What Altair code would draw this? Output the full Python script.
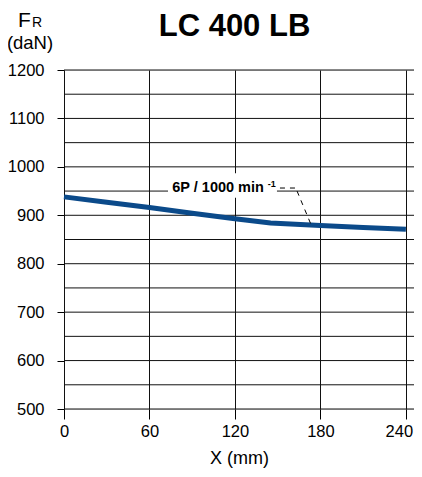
import altair as alt
import pandas as pd

# ---- data ----
x_mm = [0, 30, 60, 90, 120, 145, 180, 210, 240]
fr_dan = [938, 927, 916, 904, 893, 884, 879, 875, 871]
x_ticks = [0, 60, 120, 180, 240]
y_ticks = [500, 600, 700, 800, 900, 1000, 1100, 1200]
y_grid = [500, 550, 600, 650, 700, 750, 800, 850, 900, 950, 1000, 1050, 1100, 1150, 1200]
chart_title = "LC 400 LB"
series_label = "6P / 1000 min"
series_label_sup = "-1"

W, H = 350, 339
FONT = "Liberation Sans"
LINE_COLOR = "#0b4a8a"
GRID_COLOR = "#111111"

xs = alt.Scale(domain=[0, 245.7], nice=False, zero=False)
ys = alt.Scale(domain=[500, 1200], nice=False, zero=False)

x_axis = alt.Axis(values=x_ticks, grid=True, gridColor=GRID_COLOR, gridOpacity=1, gridWidth=1,
                  tickSize=10, tickColor="black", tickWidth=1, domain=False, format="d",
                  labelFontSize=16.5, labelFont=FONT, labelColor="black", labelPadding=4,
                  labelFlush=False,
                  labelOffset=alt.expr("datum.value == 240 ? -7 : 0"),
                  title="X (mm)", titleFont=FONT, titleFontSize=18, titleFontWeight="normal",
                  titleColor="black", titlePadding=10)
y_axis = alt.Axis(values=y_ticks, grid=False, tickSize=7, tickColor="black", tickWidth=1,
                  domain=False, format="d", labelFontSize=16.5, labelFont=FONT,
                  labelColor="black", labelPadding=13, title=None)

grid_df = pd.DataFrame({"y": y_grid})
hgrid = alt.Chart(grid_df).mark_rule(color=GRID_COLOR, strokeWidth=1).encode(
    y=alt.Y("y:Q", scale=ys, axis=y_axis),
    x=alt.value(0), x2=alt.value(W),
)

line_df = pd.DataFrame({"x": x_mm, "fr": fr_dan})
line = alt.Chart(line_df).mark_line(color=LINE_COLOR, strokeWidth=5, strokeCap="butt").encode(
    x=alt.X("x:Q", scale=xs, axis=x_axis),
    y=alt.Y("fr:Q", scale=ys),
)

# annotation (anchored in data coordinates)
box = alt.Chart(pd.DataFrame({"x": [73], "x2": [149.5], "y": [936], "y2": [987]})).mark_rect(
    color="white").encode(x=alt.X("x:Q", scale=xs), x2="x2", y=alt.Y("y:Q", scale=ys), y2="y2")
lab = alt.Chart(pd.DataFrame({"x": [76], "y": [948], "t": [series_label]})).mark_text(
    align="left", baseline="alphabetic", font=FONT, fontSize=14.5, fontWeight="bold", color="black"
).encode(x=alt.X("x:Q", scale=xs), y=alt.Y("y:Q", scale=ys), text="t")
sup = alt.Chart(pd.DataFrame({"x": [143], "y": [958], "t": [series_label_sup]})).mark_text(
    align="left", baseline="alphabetic", font=FONT, fontSize=9, fontWeight="bold", color="black"
).encode(x=alt.X("x:Q", scale=xs), y=alt.Y("y:Q", scale=ys), text="t")
leader_df = pd.DataFrame({"x": [151.6, 163.6], "x2": [163.6, 174.1],
                          "y": [956.3, 950], "y2": [956.3, 876]})
leader = alt.Chart(leader_df).mark_rule(color="black", strokeWidth=1, strokeDash=[5, 5]).encode(
    x=alt.X("x:Q", scale=xs), x2="x2", y=alt.Y("y:Q", scale=ys), y2="y2")

one = alt.Data(values=[{}])
title = alt.Chart(one).mark_text(text=chart_title, font=FONT, fontSize=31, fontWeight="bold",
                                 align="center", baseline="middle", color="black").encode(
    x=alt.value(170.5), y=alt.value(-43.5))
yt_f = alt.Chart(one).mark_text(text="F", font=FONT, fontSize=21, align="left",
                                baseline="alphabetic", color="black").encode(
    x=alt.value(-46), y=alt.value(-43))
yt_r = alt.Chart(one).mark_text(text="R", font=FONT, fontSize=14, align="left",
                                baseline="alphabetic", color="black").encode(
    x=alt.value(-32), y=alt.value(-43))
yt_u = alt.Chart(one).mark_text(text="(daN)", font=FONT, fontSize=18.5, align="center",
                                baseline="middle", color="black").encode(
    x=alt.value(-34), y=alt.value(-27.5))

chart = alt.layer(hgrid, line, box, lab, sup, leader, title, yt_f, yt_r, yt_u).properties(
    width=W, height=H,
    autosize=alt.AutoSizeParams(type="none"),
    padding={"left": 56, "top": 62, "right": 0, "bottom": 60},
).configure_view(stroke=None).configure(background="white")

chart.save("out.html", embed_options={"renderer": "svg", "actions": False})
